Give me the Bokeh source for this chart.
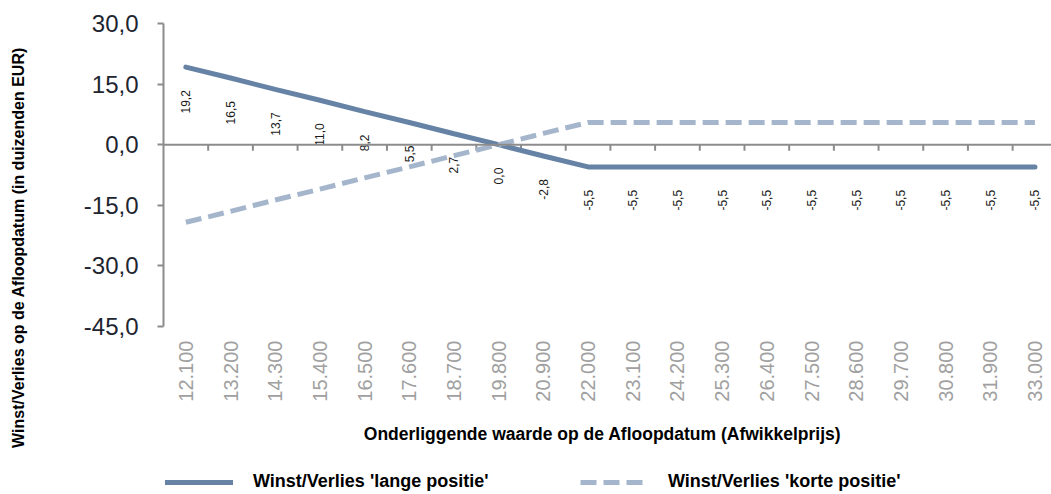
import math
import numpy as np
from bokeh.plotting import figure
from bokeh.models import (Range1d, FixedTicker, Span, Legend, LegendItem, Label,
                          ColumnDataSource)
from bokeh.embed import file_html
from bokeh.resources import INLINE
from bokeh.core.properties import value

# ---- data ----
prices = ["12.100", "13.200", "14.300", "15.400", "16.500", "17.600", "18.700",
          "19.800", "20.900", "22.000", "23.100", "24.200", "25.300", "26.400",
          "27.500", "28.600", "29.700", "30.800", "31.900", "33.000"]
long_pos = [19.2, 16.5, 13.7, 11.0, 8.2, 5.5, 2.7, 0.0, -2.8, -5.5,
            -5.5, -5.5, -5.5, -5.5, -5.5, -5.5, -5.5, -5.5, -5.5, -5.5]
short_pos = [-19.2, -16.5, -13.7, -11.0, -8.2, -5.5, -2.7, 0.0, 2.8, 5.5,
             5.5, 5.5, 5.5, 5.5, 5.5, 5.5, 5.5, 5.5, 5.5, 5.5]
y_ticks = [-45, -30, -15, 0, 15, 30]
y_tick_labels = ["-45,0", "-30,0", "-15,0", "0,0", "15,0", "30,0"]
long_name = "Winst/Verlies 'lange positie'"
short_name = "Winst/Verlies 'korte positie'"
x_title = "Onderliggende waarde op de Afloopdatum (Afwikkelprijs)"
y_title = "Winst/Verlies op de Afloopdatum (in duizenden EUR)"

FONT = "Liberation Sans"
C_LONG = "#6683a6"
C_SHORT = "#a5b6cc"
AXIS_C = "#8c8c8c"

idx = list(range(len(prices)))
y_min, y_max = y_ticks[0], y_ticks[-1]
src = ColumnDataSource(dict(
    x=idx, long=long_pos, short=short_pos,
    lbl=[f"{v:.1f}".replace(".", ",") for v in long_pos],
    price=prices, base=[y_min] * len(prices),
))

# the frame fills the canvas height; the value axis itself is bounded to -45..30
p = figure(width=1051, height=494, output_backend="svg", toolbar_location=None,
           x_range=Range1d(-0.5, 19.37), y_range=Range1d(-86.58, 35.69),
           x_axis_location=None,
           min_border_left=163, min_border_right=0, min_border_top=0,
           min_border_bottom=0)
p.outline_line_color = None
p.grid.grid_line_color = None

# y axis
ya = p.yaxis[0]
ya.bounds = (y_min, y_max)
ya.ticker = FixedTicker(ticks=y_ticks)
ya.major_label_overrides = {t: s for t, s in zip(y_ticks, y_tick_labels)}
ya.axis_line_color = AXIS_C
ya.axis_line_width = 2
ya.major_tick_line_color = AXIS_C
ya.major_tick_line_width = 2
ya.major_tick_in = 0
ya.major_tick_out = 6
ya.minor_tick_line_color = None
ya.major_label_text_font = FONT
ya.major_label_text_font_size = "24px"
ya.major_label_text_color = "#1e2530"
ya.major_label_standoff = 19
ya.axis_label = y_title
ya.axis_label_text_font = FONT
ya.axis_label_text_font_style = "bold"
ya.axis_label_text_font_size = "16px"
ya.axis_label_text_color = "#000000"
ya.axis_label_standoff = 54

# category labels under the value range
p.text("x", "base", text="price", source=src, angle=math.pi / 2,
       text_align="right", text_baseline="middle", y_offset=14,
       text_font=value(FONT), text_font_size="20px", text_color="#a0a0a0")

# x title
p.add_layout(Label(x=439, y=61, x_units="screen", y_units="screen", text=x_title,
                   text_align="center", text_baseline="middle", text_font=FONT,
                   text_font_style="bold", text_font_size="17.5px",
                   text_color="#000000"))

# zero line with category-boundary ticks
p.add_layout(Span(location=0, dimension="width", line_color=AXIS_C, line_width=2))
bounds = np.arange(len(prices) - 1) + 0.5
p.ray(x=bounds, y=np.zeros(len(bounds)), length=6, length_units="screen",
      angle=-math.pi / 2, line_color=AXIS_C, line_width=2)

# series
r_long = p.line("x", "long", source=src, line_color=C_LONG, line_width=5,
                line_cap="round")
r_short = p.line("x", "short", source=src, line_color=C_SHORT, line_width=5,
                 line_dash="16 7")

# data labels
p.text("x", "long", text="lbl", source=src, angle=math.pi / 2,
       text_align="right", text_baseline="middle", y_offset=23,
       text_font=value(FONT), text_font_size="12px", text_color="#1a1a1a")

# legend
lg = Legend(items=[LegendItem(label=long_name, renderers=[r_long]),
                   LegendItem(label=short_name, renderers=[r_short])],
            location=(2, 2), orientation="horizontal",
            glyph_width=68, glyph_height=20, label_standoff=20,
            label_width=317, spacing=10, label_text_font=FONT,
            label_text_font_style="bold", label_text_font_size="18px",
            label_text_color="#000000",
            padding=0, margin=0, border_line_color=None,
            background_fill_alpha=0)
p.add_layout(lg)

open("out.html", "w").write(file_html(p, INLINE))
